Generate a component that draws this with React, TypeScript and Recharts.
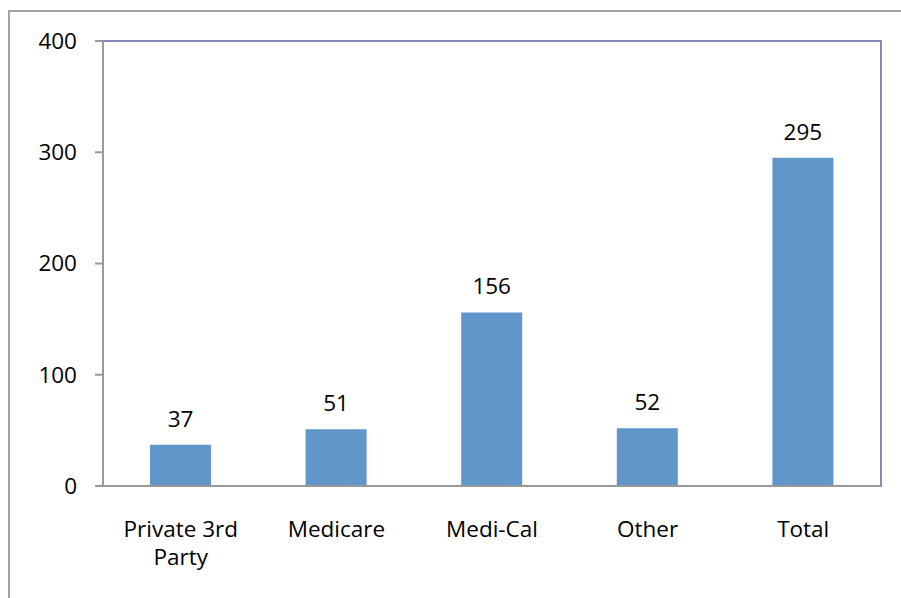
import React from 'react'
import { BarChart, Bar, XAxis, YAxis, LabelList, ReferenceArea } from 'recharts'

const categories = ['Private 3rd Party', 'Medicare', 'Medi-Cal', 'Other', 'Total']
const patients = [37, 51, 156, 52, 295]
const yTicks = [0, 100, 200, 300, 400]

const chartData = categories.map((name, i) => ({ name, value: patients[i] }))

const FONT = '"Open Sans", sans-serif'
const AXIS_GRAY = '#9a9a9a'

// simple word wrap, Excel breaks the long category into two lines
const wrapWords = (label: string, maxChars: number) => {
  const lines: string[] = []
  let current = ''
  label.split(' ').forEach(word => {
    const next = current ? `${current} ${word}` : word
    if (next.length > maxChars && current) {
      lines.push(current)
      current = word
    } else {
      current = next
    }
  })
  if (current) lines.push(current)
  return lines
}

const CategoryTick = ({ x, y, payload }: any) => {
  const lines = wrapWords(String(payload.value), 12)
  return (
    <text
      x={x}
      y={y}
      textAnchor="middle"
      style={{ fontFamily: FONT, fontSize: 22.5, fill: '#000' }}
    >
      {lines.map((line, i) => (
        <tspan key={i} x={x} dy={i === 0 ? 16 : 28}>
          {line}
        </tspan>
      ))}
    </text>
  )
}

export default function App() {
  return (
    <div
      style={{
        position: 'absolute',
        left: 0,
        top: 0,
        width: 901,
        height: 598,
        overflow: 'hidden',
        background: '#fff'
      }}
    >
      <div
        style={{
          position: 'absolute',
          left: 8,
          top: 10,
          width: 1000,
          height: 1000,
          border: '2px solid #a3a3a3'
        }}
      />
      <div style={{ position: 'absolute', left: 0, top: 0 }}>
        <BarChart
          width={901}
          height={598}
          data={chartData}
          margin={{ top: 41, right: 20, bottom: 12, left: 0 }}
          barCategoryGap={0}
        >
          <ReferenceArea
            y1={0}
            y2={400}
            fill="none"
            stroke="#8587ba"
            strokeWidth={2}
            ifOverflow="visible"
          />
          <XAxis
            dataKey="name"
            height={100}
            axisLine={{ stroke: AXIS_GRAY, strokeWidth: 2 }}
            tickLine={false}
            tickSize={0}
            tickMargin={35}
            interval={0}
            tick={<CategoryTick />}
          />
          <YAxis
            width={103}
            domain={[0, 400]}
            ticks={yTicks}
            interval={0}
            axisLine={{ stroke: AXIS_GRAY, strokeWidth: 2 }}
            tickLine={{ stroke: AXIS_GRAY, strokeWidth: 2 }}
            tickSize={8}
            tickMargin={18}
            tick={{ fontFamily: FONT, fontSize: 22.5, fill: '#000' }}
          />
          <Bar dataKey="value" fill="#6096c9" barSize={61} isAnimationActive={false}>
            <LabelList
              dataKey="value"
              position="top"
              offset={18}
              style={{ fontFamily: FONT, fontSize: 22.5, fill: '#000' }}
            />
          </Bar>
        </BarChart>
      </div>
    </div>
  )
}
